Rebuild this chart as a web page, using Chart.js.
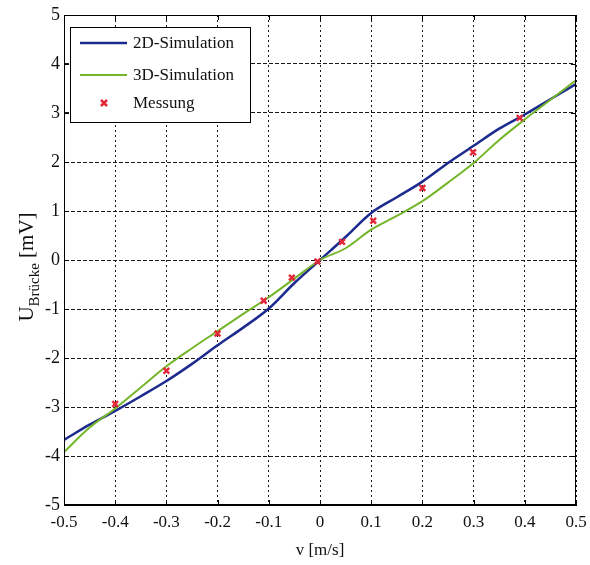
<!DOCTYPE html>
<html>
<head>
<meta charset="utf-8">
<script src="https://cdn.jsdelivr.net/npm/chart.js@4/dist/chart.umd.min.js"></script>
<style>
  html, body { margin: 0; padding: 0; background: #ffffff; }
  #wrap { width: 590px; height: 565px; }
</style>
</head>
<body>
<div id="wrap"><canvas id="c" width="590" height="565"></canvas></div>
<script>
// ---- data ----
const vSim = [-0.5, -0.45, -0.4, -0.35, -0.3, -0.25, -0.2, -0.15, -0.1, -0.05, 0, 0.05, 0.1, 0.15, 0.2, 0.25, 0.3, 0.35, 0.4, 0.45, 0.5];
const u2D  = [-3.67, -3.36, -3.08, -2.78, -2.47, -2.12, -1.74, -1.38, -0.99, -0.47, 0, 0.47, 0.96, 1.28, 1.6, 1.98, 2.33, 2.68, 2.97, 3.28, 3.59];
const u3D  = [-3.92, -3.42, -3.03, -2.6, -2.17, -1.8, -1.45, -1.1, -0.76, -0.38, 0, 0.24, 0.62, 0.9, 1.2, 1.58, 1.98, 2.45, 2.87, 3.27, 3.67];
const vMeas = [-0.4, -0.3, -0.2, -0.11, -0.055, -0.005, 0.043, 0.104, 0.2, 0.299, 0.39];
const uMeas = [-2.94, -2.26, -1.5, -0.83, -0.36, -0.03, 0.37, 0.8, 1.47, 2.2, 2.9];
const seriesNames = ['2D-Simulation', '3D-Simulation', 'Messung'];
const xTickValues = [-0.5, -0.4, -0.3, -0.2, -0.1, 0, 0.1, 0.2, 0.3, 0.4, 0.5];
const yTickValues = [-5, -4, -3, -2, -1, 0, 1, 2, 3, 4, 5];
const xTitle = 'v [m/s]';
const yTitleMain = 'U';
const yTitleSub = 'Brücke';
const yTitleUnit = ' [mV]';

const SERIF = '"Liberation Serif", "DejaVu Serif", serif';
const BLUE = '#1b2a8e';
const GREEN = '#74b52a';
const RED = '#e3283a';

const toPts = (xs, ys) => xs.map((x, i) => ({ x: x, y: ys[i] }));

// legend + frame + inward ticks + y title
const decor = {
  id: 'decor',
  afterDraw(chart) {
    const ctx = chart.ctx;
    const a = chart.chartArea;
    const xs = chart.scales.x, ys = chart.scales.y;
    ctx.save();
    // frame
    ctx.strokeStyle = '#000';
    ctx.lineWidth = 1;
    ctx.setLineDash([]);
    ctx.strokeRect(a.left + 0.5, a.top + 0.5, a.right - a.left - 1, a.bottom - a.top - 1);
    // inward ticks
    ctx.beginPath();
    xTickValues.forEach(v => {
      const px = Math.round(xs.getPixelForValue(v)) + 0.5;
      ctx.moveTo(px, a.bottom); ctx.lineTo(px, a.bottom - 5);
      ctx.moveTo(px, a.top); ctx.lineTo(px, a.top + 5);
    });
    yTickValues.forEach(v => {
      const py = Math.round(ys.getPixelForValue(v)) + 0.5;
      ctx.moveTo(a.left, py); ctx.lineTo(a.left + 5, py);
      ctx.moveTo(a.right, py); ctx.lineTo(a.right - 5, py);
    });
    ctx.stroke();

    // legend box
    const lx = a.left + 6, ly = a.top + 12, lw = 180, lh = 95;
    ctx.fillStyle = '#fff';
    ctx.fillRect(lx, ly, lw, lh);
    ctx.strokeStyle = '#000';
    ctx.lineWidth = 1;
    ctx.strokeRect(lx + 0.5, ly + 0.5, lw, lh);
    const rows = [ly + 16, ly + 48, ly + 76];
    const ds = chart.data.datasets;
    ctx.font = '17px ' + SERIF;
    ctx.textBaseline = 'middle';
    ctx.textAlign = 'left';
    for (let i = 0; i < 3; i++) {
      const y = rows[i];
      if (i < 2) {
        ctx.strokeStyle = ds[i].borderColor;
        ctx.lineWidth = ds[i].borderWidth;
        ctx.beginPath();
        ctx.moveTo(lx + 10, y); ctx.lineTo(lx + 57, y);
        ctx.stroke();
      } else {
        ctx.strokeStyle = RED;
        ctx.lineWidth = 2.5;
        ctx.beginPath();
        const cx = lx + 34, r = 3;
        ctx.moveTo(cx - r, y - r); ctx.lineTo(cx + r, y + r);
        ctx.moveTo(cx + r, y - r); ctx.lineTo(cx - r, y + r);
        ctx.stroke();
      }
      ctx.fillStyle = '#111';
      ctx.fillText(ds[i].label, lx + 63, y + 1);
    }

    // y title with subscript
    const cy = 267;
    const cxT = 27;
    ctx.translate(cxT, cy);
    ctx.rotate(-Math.PI / 2);
    ctx.fillStyle = '#111';
    ctx.textBaseline = 'middle';
    const fMain = '21px ' + SERIF, fSub = '15px ' + SERIF;
    ctx.font = fMain; const w1 = ctx.measureText(yTitleMain).width;
    ctx.font = fSub; const w2 = ctx.measureText(yTitleSub).width;
    ctx.font = fMain; const w3 = ctx.measureText(yTitleUnit).width;
    let x0 = -(w1 + w2 + w3) / 2;
    ctx.font = fMain; ctx.fillText(yTitleMain, x0, 0); x0 += w1;
    ctx.font = fSub; ctx.fillText(yTitleSub, x0, 8); x0 += w2;
    ctx.font = fMain; ctx.fillText(yTitleUnit, x0, 0);
    ctx.restore();
  }
};

const fmt = v => {
  const n = Number(Number(v).toFixed(1));
  return (n === 0 ? 0 : n).toString();
};

new Chart(document.getElementById('c'), {
  type: 'scatter',
  data: {
    datasets: [
      {
        label: seriesNames[0],
        data: toPts(vSim, u2D),
        showLine: true,
        borderColor: BLUE,
        backgroundColor: BLUE,
        borderWidth: 2.5,
        pointRadius: 0,
        cubicInterpolationMode: 'monotone',
        order: 2
      },
      {
        label: seriesNames[1],
        data: toPts(vSim, u3D),
        showLine: true,
        borderColor: GREEN,
        backgroundColor: GREEN,
        borderWidth: 2,
        pointRadius: 0,
        cubicInterpolationMode: 'monotone',
        order: 1
      },
      {
        label: seriesNames[2],
        data: toPts(vMeas, uMeas),
        showLine: false,
        pointStyle: 'crossRot',
        pointRadius: 4,
        pointBorderWidth: 2.5,
        borderColor: RED,
        backgroundColor: RED,
        order: 0
      }
    ]
  },
  options: {
    responsive: false,
    animation: false,
    devicePixelRatio: 1,
    layout: { padding: { left: 0, right: 14, top: 15, bottom: 4 } },
    plugins: {
      legend: { display: false },
      tooltip: { enabled: false }
    },
    scales: {
      x: {
        type: 'linear',
        min: -0.5, max: 0.5,
        afterBuildTicks: s => { s.ticks = xTickValues.map(v => ({ value: v })); },
        ticks: {
          callback: fmt,
          color: '#111',
          font: { family: SERIF, size: 17 },
          padding: 7,
          maxRotation: 0,
          autoSkip: false
        },
        grid: {
          color: '#1a1a1a',
          lineWidth: 1,
          drawTicks: false,
          tickLength: 0
        },
        border: { display: true, color: '#000', width: 1, dash: [2, 3] },
        title: {
          display: true,
          text: xTitle,
          color: '#111',
          font: { family: SERIF, size: 17 },
          padding: { top: 0, bottom: 0 }
        },
        afterFit: s => { s.height = 56; s.paddingLeft = 0; s.paddingRight = 0; }
      },
      y: {
        type: 'linear',
        min: -5, max: 5,
        afterBuildTicks: s => { s.ticks = yTickValues.map(v => ({ value: v })); },
        ticks: {
          callback: v => String(v),
          color: '#111',
          font: { family: SERIF, size: 18 },
          padding: 4,
          autoSkip: false
        },
        grid: {
          color: '#1a1a1a',
          lineWidth: 1,
          drawTicks: false,
          tickLength: 0
        },
        border: { display: true, color: '#000', width: 1, dash: [4, 2] },
        afterFit: s => { s.width = 64; s.paddingTop = 0; s.paddingBottom = 0; }
      }
    }
  },
  plugins: [decor]
});
</script>
</body>
</html>
